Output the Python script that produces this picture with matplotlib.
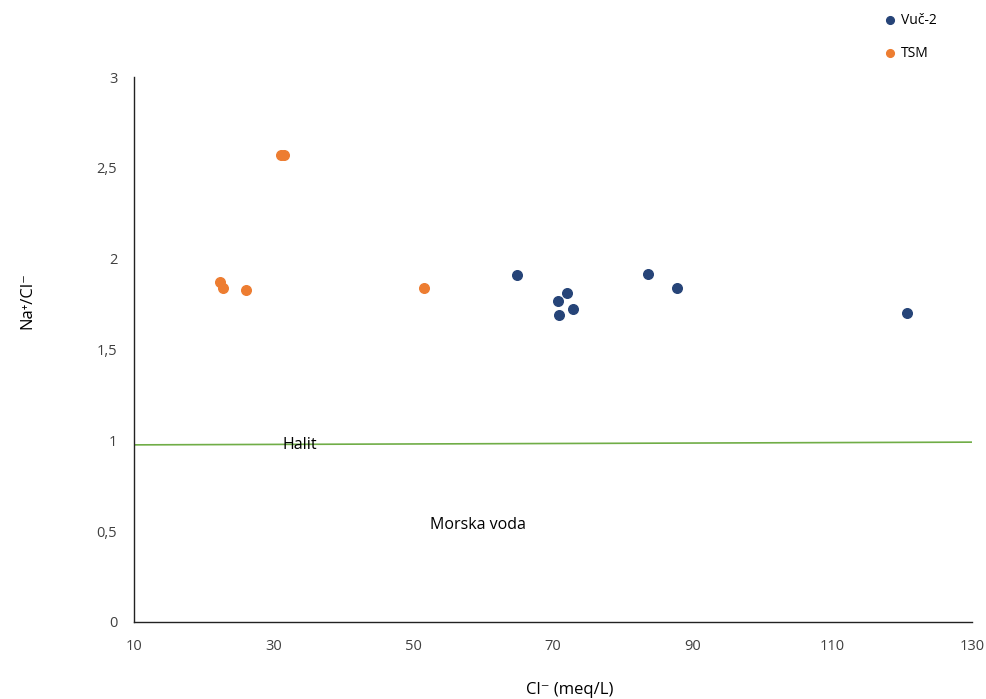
import matplotlib.pyplot as plt
from matplotlib.ticker import FuncFormatter

plt.rcParams['font.family'] = ['Open Sans', 'DejaVu Sans']

# Vuč-2 samples
vuc_cl = [64.85, 70.7, 70.9, 72.0, 72.9, 83.6, 87.8, 120.7]
vuc_ratio = [1.91, 1.767, 1.69, 1.811, 1.723, 1.915, 1.838, 1.701]

# TSM samples
tsm_cl = [22.3, 22.7, 26.0, 31.05, 31.5, 51.5]
tsm_ratio = [1.871, 1.838, 1.827, 2.570, 2.570, 1.838]

# halite dissolution line
halit_cl = [10, 130]
halit_ratio = [0.975, 0.99]

xticks = [10, 30, 50, 70, 90, 110, 130]
yticks = [0, 0.5, 1, 1.5, 2, 2.5, 3]

fig = plt.figure(figsize=(9.87, 6.99), dpi=100)
ax = fig.add_axes([0.1358, 0.1102, 0.849, 0.7796])

ax.plot(halit_cl, halit_ratio, color='#70AD47', lw=1.2, zorder=1)
ax.scatter(vuc_cl, vuc_ratio, s=48, color='#264478', label='Vuč-2', zorder=3)
ax.scatter(tsm_cl, tsm_ratio, s=48, color='#ED7D31', label='TSM', zorder=3)

ax.text(31.3, 0.975, 'Halit', fontsize=11.5, va='center', ha='left')
ax.text(52.4, 0.535, 'Morska voda', fontsize=11.5, va='center', ha='left')

ax.set_xlim(10, 130)
ax.set_ylim(0, 3)
ax.set_xticks(xticks)
ax.set_yticks(yticks)
ax.yaxis.set_major_formatter(FuncFormatter(lambda v, p: ('%g' % v).replace('.', ',')))
ax.tick_params(length=0, labelsize=10.5, colors='#404040', pad=12)
for s in ['top', 'right']:
    ax.spines[s].set_visible(False)
for s in ['left', 'bottom']:
    ax.spines[s].set_color('#222222')
    ax.spines[s].set_linewidth(1.0)

ax.set_xlabel('Cl⁻ (meq/L)', fontsize=12, va='center')
ax.set_ylabel('Na⁺/Cl⁻', fontsize=12, va='center')
ax.xaxis.set_label_coords(0.52, -0.125)
ax.yaxis.set_label_coords(-0.127, 0.59)

fig.legend(loc='upper left', bbox_to_anchor=(0.882, 0.99), frameon=False,
           fontsize=10, handletextpad=-0.2, labelspacing=1.3, markerscale=0.8,
           borderaxespad=0)

fig.savefig('out.png', dpi=100)
